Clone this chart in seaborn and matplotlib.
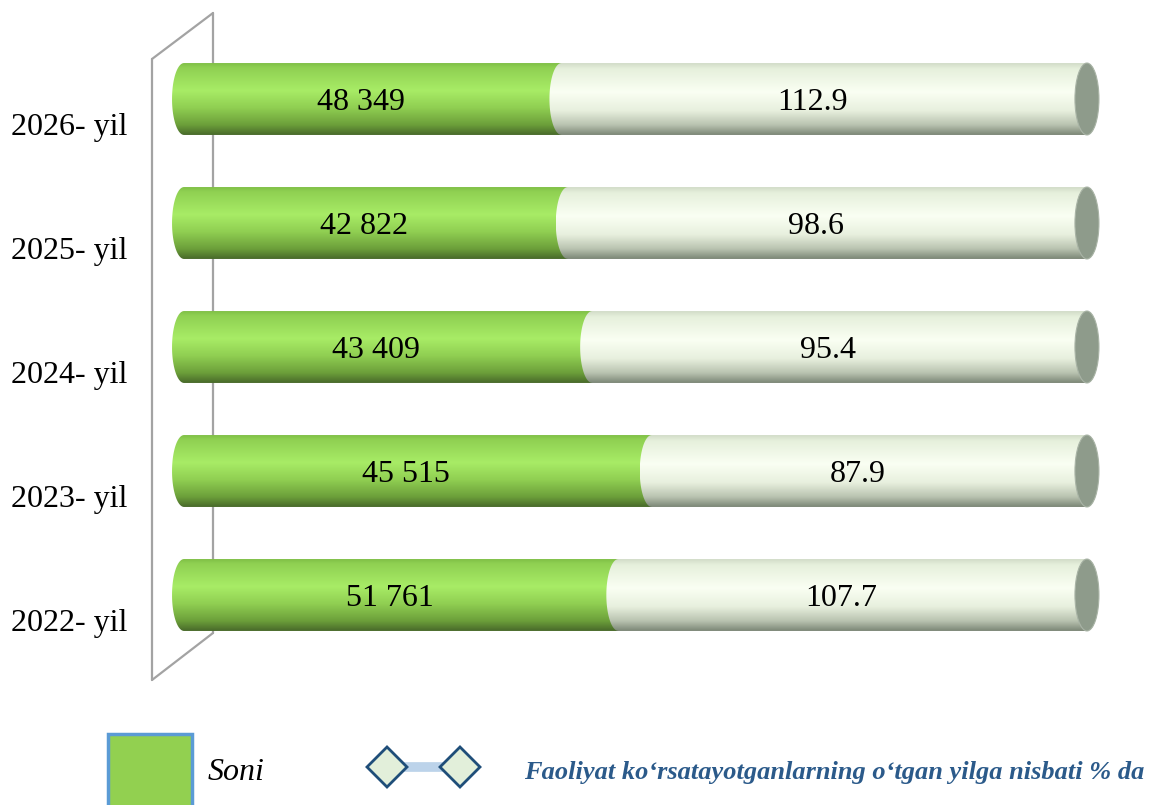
import numpy as np
import pandas as pd
import seaborn as sns
import matplotlib.pyplot as plt
import matplotlib.colors as mcolors
from matplotlib.patches import Polygon, Ellipse, Rectangle
from matplotlib.transforms import ScaledTranslation

# ---- data ----
years = ["2026- yil", "2025- yil", "2024- yil", "2023- yil", "2022- yil"]
soni = ["48 349", "42 822", "43 409", "45 515", "51 761"]
nisbat = ["112.9", "98.6", "95.4", "87.9", "107.7"]
# green part of each cylinder, % of length
soni_share = [41.8, 42.5, 45.2, 51.8, 48.1]
total = [100, 100, 100, 100, 100]

df = pd.DataFrame({"yil": years, "soni_share": soni_share, "total": total})

sns.set_theme(style="white")
plt.rcParams["font.family"] = ["Liberation Serif", "DejaVu Serif"]

fig = plt.figure(figsize=(11.5, 8.05), dpi=100)

# background layer in pixel units (wall frame + legend)
bg = fig.add_axes([0, 0, 1, 1])
bg.set_xlim(0, 1150)
bg.set_ylim(805, 0)
bg.axis("off")

ax = fig.add_axes([170.5 / 1150, 1 - 657 / 805, 930 / 1150, 620 / 805])
ax.set_zorder(1)
ax.patch.set_visible(False)

sns.barplot(data=df, x="total", y="yil", color="#f4fbec", width=0.58, ax=ax)
sns.barplot(data=df, x="soni_share", y="yil", color="#92d050", width=0.58, ax=ax)

XMIN, XMAX = -1.5, 101.5
ex = 1.33  # half width of the end ellipses (x units)


def grad(stops, n=256):
    pos = [s[0] for s in stops]
    cols = np.array([mcolors.to_rgb(s[1]) for s in stops])
    t = np.linspace(0, 1, n)
    img = np.stack([np.interp(t, pos, cols[:, k]) for k in range(3)], axis=1)
    return img[:, None, :]


green_img = grad([(0, "#7fbf45"), (0.06, "#8fd052"), (0.38, "#a8ec66"),
                  (0.62, "#90cf52"), (0.86, "#6c9f3a"), (1, "#48692a")])
white_img = grad([(0, "#d2dcc8"), (0.08, "#e6f0dc"), (0.4, "#fafff3"),
                  (0.66, "#e8f0de"), (0.86, "#b9c3b0"), (1, "#7b8676")])


def seg_verts(x0, x1, yc, hh, left_cap, right_cap):
    if left_cap:
        th = np.linspace(np.pi / 2, 3 * np.pi / 2, 50)
        left = np.column_stack([x0 + ex * np.cos(th), yc + hh * np.sin(th)])
    else:
        left = np.array([[x0, yc + hh], [x0, yc - hh]])
    if right_cap:
        th = np.linspace(-np.pi / 2, np.pi / 2, 50)
        right = np.column_stack([x1 + ex * np.cos(th), yc + hh * np.sin(th)])
    else:
        right = np.array([[x1, yc - hh], [x1, yc + hh]])
    return np.vstack([left, right])


def cylinder_part(x0, x1, yc, hh, img, z, left_cap, right_cap):
    poly = Polygon(seg_verts(x0, x1, yc, hh, left_cap, right_cap), closed=True,
                   facecolor="none", edgecolor="none", transform=ax.transData)
    ax.add_patch(poly)
    im = ax.imshow(img, extent=(x0 - ex, x1 + ex, yc - hh, yc + hh),
                   origin="lower", aspect="auto", zorder=z, interpolation="bilinear")
    im.set_clip_path(poly)


n = len(years)
tot_bars = ax.patches[:n]
green_bars = ax.patches[n:2 * n]

for i in range(n):
    tb, gb = tot_bars[i], green_bars[i]
    yc = tb.get_y() + tb.get_height() / 2
    hh = tb.get_height() / 2
    g = gb.get_width()
    end = tb.get_width()
    tb.set_visible(False)
    gb.set_visible(False)

    cylinder_part(0, g, yc, hh, green_img, 2, True, False)
    cylinder_part(g, end, yc, hh, white_img, 3, True, True)
    ax.add_patch(Ellipse((end, yc), 2 * ex, 2 * hh, facecolor="#8e9b8b",
                         edgecolor="#a9b4a6", lw=0.8, zorder=4))

    ax.text(g / 2 - 1.3, yc + 0.025, soni[i], ha="center", va="center",
            fontsize=23, color="black", zorder=5)
    ax.text((g + end) / 2 - 1.3, yc + 0.025, nisbat[i], ha="center", va="center",
            fontsize=23, color="black", zorder=5)

ax.set_xlim(XMIN, XMAX)
ax.set_ylim(n - 0.5, -0.5)
ax.set_xlabel("")
ax.set_ylabel("")
ax.set_xticks([])
sns.despine(ax=ax, left=True, bottom=True)
ax.tick_params(axis="y", length=0, pad=31, labelsize=23, labelcolor="black")
for lab in ax.get_yticklabels():
    lab.set_transform(lab.get_transform() + ScaledTranslation(0, -0.25, fig.dpi_scale_trans))

# side wall of the 3D chart
wall = "#a3a3a3"
bg.plot([152, 152], [59, 680], color=wall, lw=1.6)
bg.plot([213, 213], [13, 633], color=wall, lw=1.6)
bg.plot([152, 213], [59, 13], color=wall, lw=1.6)
bg.plot([152, 213], [680, 633], color=wall, lw=1.6)

# legend
bg.add_patch(Rectangle((108, 734), 84, 80, facecolor="#92d050",
                       edgecolor="#5b9bd5", lw=2.5))
bg.text(208, 772, "Soni", style="italic", fontsize=23, va="center", color="black")
bg.plot([387, 460], [767, 767], color="#bcd3ea", lw=7, solid_capstyle="butt", zorder=2)
for cx in (387, 460):
    d = 20
    bg.add_patch(Polygon([[cx - d, 767], [cx, 767 - d], [cx + d, 767], [cx, 767 + d]],
                         closed=True, facecolor="#e2efda", edgecolor="#1f4e79",
                         lw=2, zorder=3))
bg.text(524, 772, "Faoliyat ko\u2018rsatayotganlarning o\u2018tgan yilga nisbati % da",
        fontweight="bold", style="italic", fontsize=19, va="center", color="#2b5a8a")

fig.savefig("out.png", dpi=100)
